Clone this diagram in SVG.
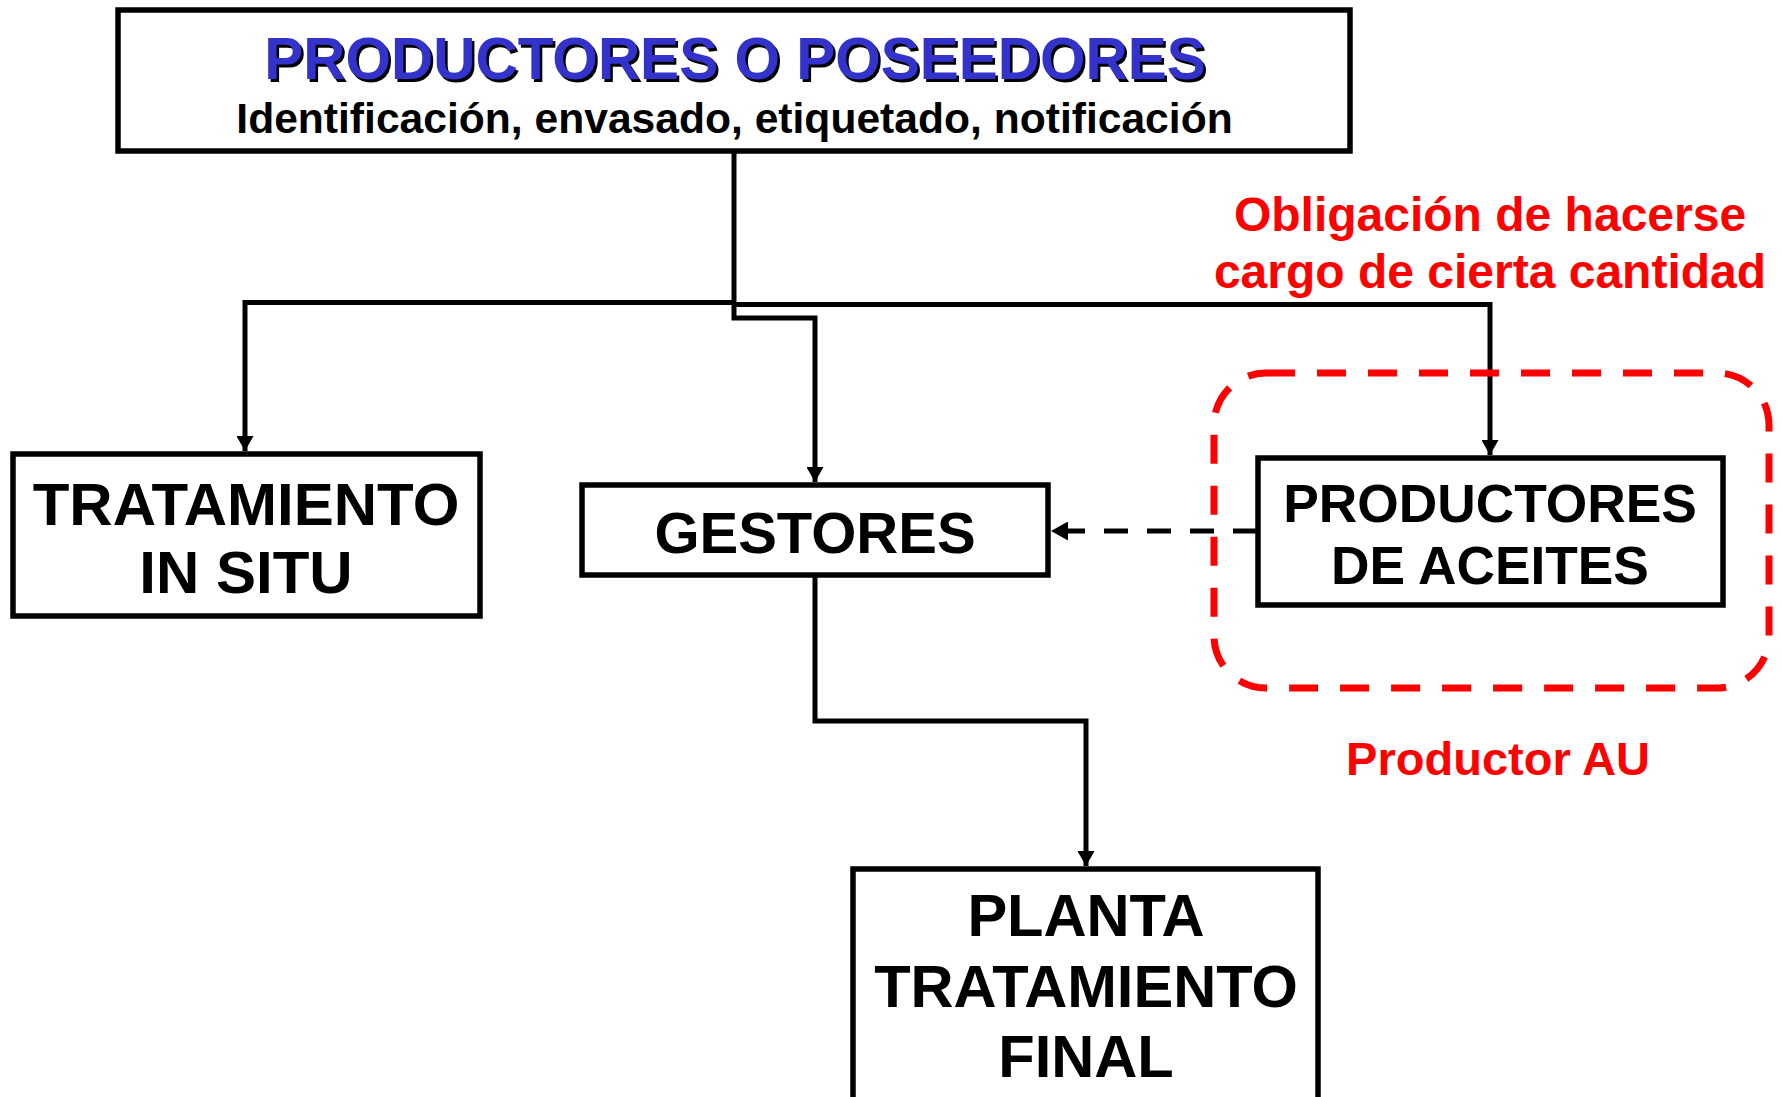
<svg xmlns="http://www.w3.org/2000/svg" width="1782" height="1097" viewBox="0 0 1782 1097">
<style>
  .box { fill: #FFFFFF; stroke: #000000; stroke-width: 5.5; }
  .t { font-family: "Liberation Sans", Arial, sans-serif; font-weight: bold; text-anchor: middle; fill: #000000; }
  .red { fill: #FF0000; }
  .conn { fill: none; stroke: #000000; stroke-width: 5; }
</style>
<defs>
  <marker id="arr" markerUnits="userSpaceOnUse" markerWidth="15" markerHeight="17" viewBox="0 0 15 17" refX="15" refY="8.5" orient="auto">
    <path d="M0,0 L15,8.5 L0,17 Z" fill="#000000"/>
  </marker>
  <marker id="arr2" markerUnits="userSpaceOnUse" markerWidth="17" markerHeight="19" viewBox="0 0 17 19" refX="17" refY="9.5" orient="auto">
    <path d="M0,0 L17,9.5 L0,19 Z" fill="#000000"/>
  </marker>
</defs>
<rect width="1782" height="1097" fill="#FFFFFF"/>

<g id="connectors">
  <path class="conn" d="M734,151 V318 H815 V482" marker-end="url(#arr)"/>
  <path class="conn" d="M734,302.5 H245 V451" marker-end="url(#arr)"/>
  <path class="conn" d="M734,304.5 H1490 V455" marker-end="url(#arr)"/>
  <path class="conn" d="M815,575 V721 H1086 V866" marker-end="url(#arr)"/>
  <path class="conn" d="M1257,531 H1051" stroke-width="6" stroke-dasharray="24 19" marker-end="url(#arr2)"/>
</g>

<g id="productor-au-group">
  <rect x="1214" y="373" width="555" height="315" rx="52" ry="52" fill="none" stroke="#FF0000" stroke-width="7" stroke-dasharray="29 22"/>
</g>

<g id="node-productores-poseedores">
  <rect class="box" x="118" y="10" width="1232" height="141"/>
  <text class="t" x="737.5" y="81.5" font-size="58.5" fill="#000000">PRODUCTORES O POSEEDORES</text>
  <text class="t" x="735" y="79" font-size="58.5" style="fill:#3333CC">PRODUCTORES O POSEEDORES</text>
  <text class="t" x="734.5" y="133" font-size="42.6">Identificación, envasado, etiquetado, notificación</text>
</g>

<g id="node-tratamiento-in-situ">
  <rect class="box" x="13" y="454" width="467" height="162"/>
  <text class="t" x="246" y="525" font-size="60">TRATAMIENTO</text>
  <text class="t" x="246" y="593" font-size="60">IN SITU</text>
</g>

<g id="node-gestores">
  <rect class="box" x="582" y="485" width="466" height="90"/>
  <text class="t" x="815" y="553" font-size="58">GESTORES</text>
</g>

<g id="node-productores-aceites">
  <rect class="box" x="1258" y="458" width="465" height="147"/>
  <text class="t" x="1490" y="522" font-size="53.3">PRODUCTORES</text>
  <text class="t" x="1490" y="584" font-size="53.3">DE ACEITES</text>
</g>

<g id="node-planta">
  <rect class="box" x="853" y="869" width="465" height="260"/>
  <text class="t" x="1086" y="936" font-size="59.6">PLANTA</text>
  <text class="t" x="1086" y="1007" font-size="59.6">TRATAMIENTO</text>
  <text class="t" x="1086" y="1077" font-size="59.6">FINAL</text>
</g>

<g id="labels">
  <text class="t red" x="1490" y="231" font-size="48">Obligación de hacerse</text>
  <text class="t red" x="1490" y="288" font-size="48">cargo de cierta cantidad</text>
  <text class="t red" x="1498" y="775" font-size="47">Productor AU</text>
</g>
</svg>
